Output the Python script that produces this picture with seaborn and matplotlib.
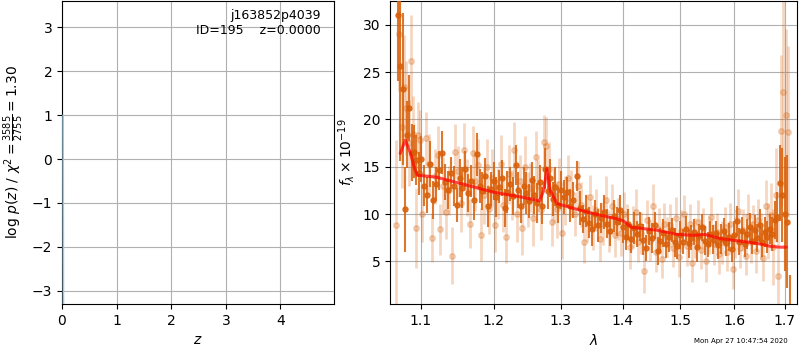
import numpy as np
import matplotlib
matplotlib.use("Agg")
import matplotlib.pyplot as plt
import seaborn as sns
from matplotlib.ticker import NullLocator, FixedLocator, FixedFormatter

# ======================================
# Data
# ======================================

# redshift probability (left panel)
z_grid = [0.021, 0.022, 0.023, 0.024, 0.025, 0.026, 0.027]
log_pz = [1.0, 0.1, -0.8, -1.6, -2.3, -3.0, -3.6]

# first beam (dark points)
dark_wave = [1.070, 1.073, 1.076, 1.079, 1.082, 1.085, 1.088, 1.091, 1.094, 1.097, 1.100,
             1.104, 1.108, 1.112, 1.116, 1.120, 1.124, 1.128, 1.132, 1.136, 1.140,
             1.144, 1.148, 1.152, 1.156, 1.160, 1.164, 1.168, 1.172, 1.176, 1.180,
             1.184, 1.188, 1.192, 1.196, 1.200, 1.204, 1.208, 1.212, 1.216, 1.220,
             1.224, 1.228, 1.232, 1.236, 1.240, 1.244, 1.248, 1.252, 1.256, 1.260,
             1.264, 1.268, 1.272, 1.276, 1.280, 1.284, 1.288, 1.292, 1.296, 1.300,
             1.305, 1.310, 1.315, 1.320, 1.325, 1.330, 1.335, 1.340, 1.345, 1.350,
             1.355, 1.360, 1.365, 1.370, 1.375, 1.380, 1.385, 1.390, 1.395, 1.400,
             1.405, 1.410, 1.415, 1.420, 1.425, 1.430, 1.435, 1.440, 1.445, 1.450,
             1.455, 1.460, 1.465, 1.470, 1.475, 1.480, 1.485, 1.490, 1.495, 1.500,
             1.505, 1.510, 1.515, 1.520, 1.525, 1.530, 1.535, 1.540, 1.545, 1.550,
             1.555, 1.560, 1.565, 1.570, 1.575, 1.580, 1.585, 1.590, 1.595, 1.600,
             1.605, 1.610, 1.615, 1.620, 1.625, 1.630, 1.635, 1.640, 1.645, 1.650,
             1.655, 1.660, 1.665, 1.670, 1.675, 1.680, 1.685, 1.690, 1.695, 1.700,
             1.705, 1.710]
dark_flux = [31.0, 25.6, 23.2, 10.5, 18.4, 21.2, 16.5, 16.6, 15.7, 14.3, 15.8,
             13.0, 12.0, 15.3, 11.5, 13.2, 14.6, 16.5, 13.4, 12.5, 14.3,
             13.0, 11.0, 13.8, 12.8, 14.8, 12.2, 13.5, 11.5, 16.3, 13.0,
             12.4, 14.0, 10.8, 12.6, 13.5, 11.8, 12.9, 13.8, 10.6, 12.3,
             13.2, 11.9, 15.2, 12.5, 10.8, 13.0, 12.2, 11.4, 13.6, 12.0,
             11.2, 13.4, 10.9, 14.8, 12.4, 13.8, 11.6, 12.9, 11.0, 12.5,
             11.8, 12.3, 10.9, 11.5, 14.0, 10.6, 9.5, 10.3, 9.1, 8.4,
             10.0, 8.8, 9.6, 10.2, 9.0, 8.2, 9.8, 9.2, 10.4, 8.6,
             7.6, 8.9, 7.4, 8.5, 7.9, 8.7, 7.3, 6.4, 8.2, 7.5,
             8.8, 6.1, 7.2, 8.0, 6.8, 7.6, 8.3, 7.0, 6.6, 7.8,
             7.1, 8.4, 6.9, 7.5, 8.1, 6.5, 7.7, 8.6, 7.2, 6.8,
             7.9, 7.3, 8.0, 6.7, 7.4, 8.2, 6.9, 7.6, 6.3, 7.8,
             9.3, 7.1, 8.2, 6.8, 7.9, 8.6, 7.2, 8.3, 7.5, 8.8,
             7.0, 8.1, 7.6, 8.4, 7.9, 9.4, 9.7, 13.3, 12.0, 10.0,
             9.2, 0.0]
dark_err = [7.0, 10.0, 8.0, 4.5, 3.5, 3.5, 3.0, 2.8, 2.6, 2.3, 2.4,
            2.2, 1.9, 2.4, 2.0, 1.8, 2.1, 2.3, 1.9, 2.0, 1.7,
            2.1, 1.8, 2.0, 2.2, 1.9, 2.0, 1.7, 2.1, 2.3, 1.8,
            2.0, 1.9, 2.2, 1.8, 2.0, 2.1, 1.7, 1.9, 2.0, 2.2,
            1.8, 2.0, 2.1, 1.9, 1.7, 2.0, 2.2, 1.8, 1.9, 2.0,
            2.1, 1.8, 2.0, 2.2, 1.9, 2.0, 1.8, 2.1, 1.9, 2.0,
            1.8, 1.6, 1.7, 1.9, 1.6, 1.8, 1.5, 1.7, 1.6, 1.8,
            1.5, 1.7, 1.6, 1.8, 1.5, 1.6, 1.7, 1.5, 1.6, 1.7,
            1.4, 1.6, 1.5, 1.7, 1.4, 1.5, 1.6, 1.4, 1.5, 1.6,
            1.4, 1.5, 1.3, 1.5, 1.4, 1.6, 1.3, 1.5, 1.4, 1.5,
            1.3, 1.4, 1.5, 1.3, 1.4, 1.6, 1.3, 1.4, 1.5, 1.3,
            1.4, 1.5, 1.3, 1.4, 1.6, 1.4, 1.3, 1.5, 1.4, 1.5,
            1.6, 1.4, 1.5, 1.3, 1.6, 1.5, 1.4, 1.6, 1.5, 1.7,
            1.5, 1.6, 1.7, 1.6, 1.8, 2.0, 2.6, 4.0, 5.0, 6.0,
            7.0, 3.6]

# second beam (light points)
light_wave = [1.068, 1.072, 1.075, 1.078, 1.081, 1.084, 1.087, 1.090, 1.093, 1.096, 1.099,
              1.102, 1.106, 1.110, 1.114, 1.118, 1.122, 1.126, 1.130, 1.134, 1.138,
              1.142, 1.146, 1.150, 1.154, 1.158, 1.162, 1.166, 1.170, 1.174, 1.178,
              1.182, 1.186, 1.190, 1.194, 1.198, 1.202, 1.206, 1.210, 1.214, 1.218,
              1.222, 1.226, 1.230, 1.234, 1.238, 1.242, 1.246, 1.250, 1.254, 1.258,
              1.262, 1.266, 1.270, 1.274, 1.278, 1.282, 1.286, 1.290, 1.294, 1.298,
              1.302,
              1.307, 1.312, 1.317, 1.322, 1.327, 1.332, 1.337, 1.342, 1.347, 1.352,
              1.357, 1.362, 1.367, 1.372, 1.377, 1.382, 1.387, 1.392, 1.397, 1.402,
              1.407, 1.412, 1.417, 1.422, 1.427, 1.432, 1.437, 1.442, 1.447, 1.452,
              1.457, 1.462, 1.467, 1.472, 1.477, 1.482, 1.487, 1.492, 1.497, 1.502,
              1.507, 1.512, 1.517, 1.522, 1.527, 1.532, 1.537, 1.542, 1.547, 1.552,
              1.557, 1.562, 1.567, 1.572, 1.577, 1.582, 1.587, 1.592, 1.597, 1.602,
              1.607, 1.612, 1.617, 1.622, 1.627, 1.632, 1.637, 1.642, 1.647, 1.652,
              1.657, 1.662, 1.667, 1.672, 1.677, 1.682, 1.687, 1.692, 1.697, 1.702,
              1.707]
light_flux = [8.8, 29.0, 19.2, 23.4, 21.2, 17.5, 26.2, 18.5, 8.5, 18.3, 17.8,
              10.0, 18.0, 15.3, 7.5, 14.0, 16.2, 8.4, 13.0, 10.2, 12.5,
              5.6, 16.6, 14.5, 11.2, 16.8, 12.8, 9.0, 16.4, 13.5, 15.2,
              7.8, 12.0, 15.0, 10.5, 13.8, 8.8, 12.2, 15.3, 11.0, 7.6,
              14.2, 12.0, 16.8, 10.0, 13.5, 8.5, 15.0, 11.5, 12.8, 9.6,
              16.0, 13.0, 10.4, 17.6, 17.2, 14.8, 9.2, 12.0, 10.5, 13.2,
              8.0,
              11.4, 13.8, 12.2, 10.0, 13.0, 11.0, 7.0, 9.6, 11.8, 8.6,
              10.4, 7.4, 9.0, 11.5, 8.2, 10.8, 7.8, 9.5, 8.0, 10.0,
              9.0, 6.5, 8.6, 10.2, 7.0, 8.0, 4.0, 9.4, 7.2, 10.9,
              6.0, 8.4, 5.2, 9.0, 7.6, 8.8, 6.4, 9.6, 5.5, 8.2,
              10.0, 6.6, 8.9, 4.8, 7.5, 9.2, 6.2, 8.5, 5.0, 7.8,
              9.7, 6.8, 8.1, 5.8, 7.0, 8.6, 6.0, 9.0, 4.2, 7.6,
              10.3, 6.4, 8.3, 5.6, 9.8, 7.0, 8.9, 6.1, 9.4, 7.7,
              5.4, 10.8, 8.2, 9.9, 6.5, 12.0, 3.5, 18.8, 22.9, 20.5,
              18.7]
light_err = [9.0, 6.0, 6.5, 5.5, 5.0, 4.5, 4.8, 4.0, 4.2, 3.5, 3.2,
             3.0, 2.8, 3.2, 2.6, 2.9, 3.1, 2.7, 3.0, 2.8, 2.6,
             3.0, 2.9, 2.7, 3.1, 2.8, 3.0, 2.6, 2.9, 3.2, 2.7,
             2.8, 3.0, 2.9, 2.6, 3.1, 2.8, 2.7, 3.0, 2.9, 2.8,
             3.1, 2.6, 2.9, 3.0, 2.7, 2.8, 3.2, 2.9, 2.6, 3.0,
             2.8, 2.7, 3.1, 2.9, 3.0, 2.8, 2.6, 2.9, 3.0, 2.7,
             2.8,
             2.6, 2.4, 2.5, 2.3, 2.6, 2.4, 2.2, 2.5, 2.3, 2.4,
             2.2, 2.4, 2.3, 2.5, 2.2, 2.4, 2.3, 2.2, 2.4, 2.3,
             2.1, 2.3, 2.2, 2.4, 2.1, 2.2, 2.3, 2.1, 2.2, 2.3,
             2.1, 2.2, 2.0, 2.2, 2.1, 2.3, 2.0, 2.2, 2.1, 2.2,
             2.0, 2.1, 2.2, 2.0, 2.1, 2.3, 2.0, 2.1, 2.2, 2.0,
             2.1, 2.2, 2.0, 2.1, 2.3, 2.1, 2.0, 2.2, 2.1, 2.2,
             2.3, 2.1, 2.2, 2.0, 2.3, 2.2, 2.1, 2.3, 2.2, 2.4,
             2.5, 2.8, 3.0, 3.4, 4.0, 5.0, 6.0, 8.0, 10.0, 9.0,
             9.0]

# best-fit model (red line)
model_wave = [1.073, 1.0795, 1.086, 1.091, 1.095, 1.12, 1.16, 1.20, 1.24, 1.268,
              1.274, 1.279, 1.284, 1.2944, 1.32, 1.355, 1.39, 1.401, 1.415, 1.458,
              1.494, 1.527, 1.545, 1.575, 1.611, 1.645, 1.67, 1.69, 1.703]
model_flux = [16.4, 17.8, 16.5, 15.0, 14.1, 13.9, 13.1, 12.3, 11.8, 11.4,
              12.5, 14.8, 12.5, 11.1, 10.6, 10.0, 9.5, 9.3, 8.6, 8.3,
              7.85, 7.75, 7.85, 7.4, 7.14, 6.9, 6.6, 6.5, 6.5]

wave_ticks = [1.1, 1.2, 1.3, 1.4, 1.5, 1.6, 1.7]

# ======================================
# Style
# ======================================

sns.set_style("ticks", rc={
    "axes.edgecolor": "black", "xtick.color": "black", "ytick.color": "black",
    "axes.labelcolor": "black", "text.color": "black", "grid.color": "#b0b0b0",
})
plt.rcParams["font.family"] = ["DejaVu Sans"]
plt.rcParams["font.size"] = 10

dark_col = "#d9600a"

fig = plt.figure(figsize=(8, 3.5), dpi=100)
ax1 = fig.add_axes([62 / 800, 46 / 350, 272 / 800, 303 / 350])
ax2 = fig.add_axes([390 / 800, 46 / 350, 407 / 800, 303 / 350])

# ======================================
# Left: log p(z)
# ======================================

sns.lineplot(x=z_grid, y=log_pz, ax=ax1, color="#9ecae1", lw=1.2, sort=False, zorder=5)
ax1.fill_between(z_grid, log_pz, -10, color="#c6dbef", alpha=0.4, lw=0)
ax1.set_xlim(0, 4.98)
ax1.set_ylim(-3.3, 3.6)
ax1.set_xticks([0, 1, 2, 3, 4])
ax1.set_yticks([-3, -2, -1, 0, 1, 2, 3])
ax1.grid(True, color="#b0b0b0", lw=0.8)
ax1.set_xlabel(r"$z$")
ax1.set_ylabel(r"$\log\,p(z)$ / $\chi^2=\frac{3585}{2755}=1.30$")
ax1.text(0.952, 0.975, "j163852p4039\nID=195    z=0.0000", transform=ax1.transAxes,
         ha="right", va="top", fontsize=9)

# ======================================
# Right: spectrum
# ======================================

ax2.errorbar(light_wave, light_flux, yerr=light_err, fmt="o", color=dark_col,
             alpha=0.25, ms=4, elinewidth=2, capsize=0, zorder=2)
ax2.errorbar(dark_wave, dark_flux, yerr=dark_err, fmt="o", color=dark_col,
             alpha=0.85, ms=3.6, elinewidth=1.5, capsize=0, zorder=3)
sns.lineplot(x=model_wave, y=model_flux, ax=ax2, color="red", lw=2.2, alpha=0.7,
             sort=False, zorder=4)

ax2.set_xscale("log")
ax2.set_xlim(1.060, 1.725)
ax2.set_ylim(0.5, 32.5)
ax2.xaxis.set_major_locator(FixedLocator(wave_ticks))
ax2.xaxis.set_major_formatter(FixedFormatter([f"{w:.1f}" for w in wave_ticks]))
ax2.xaxis.set_minor_locator(NullLocator())
ax2.set_yticks([5, 10, 15, 20, 25, 30])
ax2.grid(True, color="#b0b0b0", lw=0.8)
ax2.set_xlabel(r"$\lambda$")
ax2.set_ylabel(r"$f_\lambda \times 10^{-19}$")

fig.text(0.985, 0.018, "Mon Apr 27 10:47:54 2020", ha="right", va="bottom", fontsize=5)

fig.savefig("out.png", dpi=100)
